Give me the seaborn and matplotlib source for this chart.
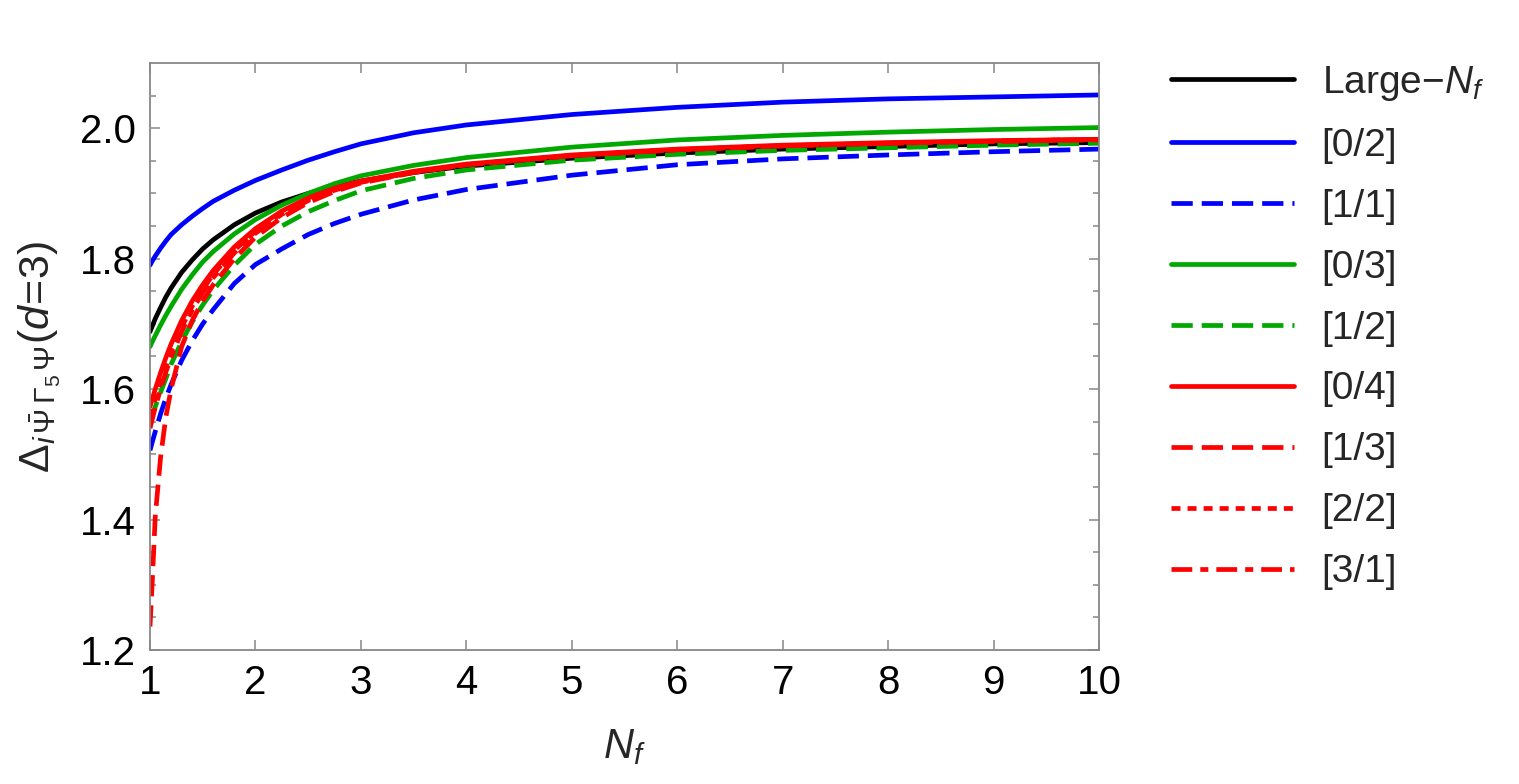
import matplotlib
matplotlib.use("Agg")
import matplotlib.pyplot as plt
import seaborn as sns
import numpy as np
import pandas as pd

# ---- data ----
N_f = [1.0, 1.02, 1.05, 1.1, 1.15, 1.2, 1.3, 1.4, 1.5, 1.6, 1.8, 2.0, 2.25, 2.5,
       2.75, 3.0, 3.5, 4.0, 5.0, 6.0, 7.0, 8.0, 9.0, 10.0]

large_nf = [1.688, 1.696, 1.708, 1.725, 1.741, 1.755, 1.779, 1.798, 1.815, 1.829,
            1.852, 1.870, 1.887, 1.900, 1.911, 1.919, 1.932, 1.942, 1.954, 1.962,
            1.968, 1.972, 1.976, 1.978]
pade_02 = [1.790, 1.796, 1.804, 1.816, 1.827, 1.837, 1.852, 1.865, 1.877, 1.888,
           1.905, 1.920, 1.936, 1.951, 1.964, 1.976, 1.993, 2.005, 2.021, 2.032,
           2.040, 2.045, 2.048, 2.051]
pade_11 = [1.506, 1.518, 1.535, 1.562, 1.586, 1.607, 1.644, 1.674, 1.700, 1.722,
           1.762, 1.791, 1.815, 1.837, 1.854, 1.868, 1.890, 1.906, 1.928, 1.944,
           1.953, 1.959, 1.964, 1.968]
pade_03 = [1.665, 1.672, 1.682, 1.698, 1.713, 1.727, 1.753, 1.775, 1.795, 1.811,
           1.838, 1.860, 1.882, 1.900, 1.915, 1.927, 1.943, 1.955, 1.971, 1.982,
           1.989, 1.994, 1.998, 2.001]
pade_12 = [1.550, 1.559, 1.573, 1.595, 1.616, 1.638, 1.673, 1.703, 1.729, 1.752,
           1.790, 1.822, 1.850, 1.872, 1.889, 1.904, 1.923, 1.936, 1.951, 1.960,
           1.966, 1.970, 1.974, 1.977]
pade_04 = [1.573, 1.584, 1.600, 1.625, 1.648, 1.669, 1.705, 1.735, 1.760, 1.782,
           1.818, 1.846, 1.873, 1.893, 1.908, 1.919, 1.934, 1.945, 1.959, 1.968,
           1.974, 1.978, 1.981, 1.983]
pade_13 = [1.236, 1.300, 1.405, 1.495, 1.557, 1.600, 1.665, 1.705, 1.735, 1.760,
           1.800, 1.833, 1.863, 1.886, 1.903, 1.916, 1.932, 1.944, 1.958, 1.967,
           1.973, 1.977, 1.980, 1.982]
pade_22 = [1.556, 1.568, 1.585, 1.611, 1.635, 1.657, 1.695, 1.727, 1.753, 1.776,
           1.813, 1.842, 1.870, 1.891, 1.906, 1.918, 1.933, 1.944, 1.958, 1.967,
           1.973, 1.977, 1.980, 1.983]
pade_31 = [1.540, 1.553, 1.572, 1.600, 1.626, 1.649, 1.688, 1.721, 1.748, 1.771,
           1.809, 1.839, 1.868, 1.889, 1.905, 1.917, 1.933, 1.944, 1.958, 1.967,
           1.973, 1.977, 1.980, 1.983]

labels = [r"Large$-N_f$", "[0/2]", "[1/1]", "[0/3]", "[1/2]", "[0/4]", "[1/3]", "[2/2]", "[3/1]"]
series = [large_nf, pade_02, pade_11, pade_03, pade_12, pade_04, pade_13, pade_22, pade_31]

x_ticks = [1, 2, 3, 4, 5, 6, 7, 8, 9, 10]
y_ticks = [1.2, 1.4, 1.6, 1.8, 2.0]

# ---- styles ----
GREEN = (0.0, 0.66, 0.0)
colors = ["black", "blue", "blue", GREEN, GREEN, "red", "red", "red", "red"]
LW = 3.4
dashed = (0, (4.5, 1.9))
dotted = (0, (1.9, 1.5))
dashdot = (0, (4.4, 1.7, 1.7, 1.7))
styles = ["-", "-", dashed, "-", dashed, "-", dashed, dotted, dashdot]

sns.set_style("ticks")
plt.rcParams["font.family"] = ["Liberation Sans", "DejaVu Sans"]
plt.rcParams["mathtext.fontset"] = "custom"
plt.rcParams["mathtext.rm"] = "Liberation Sans"
plt.rcParams["mathtext.it"] = "Liberation Sans:italic"
plt.rcParams["mathtext.bf"] = "Liberation Sans:bold"

fig = plt.figure(figsize=(15.19, 7.84), dpi=100)
ax = fig.add_axes([150 / 1519, 1 - 650 / 784, (1099 - 150) / 1519, (650 - 63) / 784])

frames = []
for lab, ys in zip(labels, series):
    frames.append(pd.DataFrame({"N": N_f, "val": ys, "series": lab}))
df = pd.concat(frames, ignore_index=True)

for lab, c, ls in zip(labels, colors, styles):
    sub = df[df["series"] == lab]
    sns.lineplot(data=sub, x="N", y="val", ax=ax, color=c, linewidth=LW,
                 linestyle=ls, label=lab, estimator=None, sort=False)

ax.set_xlim(1, 10)
ax.set_ylim(1.2, 2.1)
ax.set_xticks(x_ticks)
ax.set_xticklabels([str(t) for t in x_ticks])
ax.set_yticks(y_ticks)
ax.set_yticklabels([f"{t:.1f}" for t in y_ticks])
ax.set_yticks(np.arange(1.25, 2.1, 0.05), minor=True)

FRAME = "#888888"
for sp in ax.spines.values():
    sp.set_color(FRAME)
    sp.set_linewidth(1.3)
ax.tick_params(axis="both", which="both", direction="in", top=True, right=True,
               color=FRAME, width=1.1, labelsize=29, labelcolor="black")
ax.tick_params(axis="both", which="major", length=7, pad=10)
ax.tick_params(axis="y", which="minor", length=4)

ax.set_xlabel(r"$N_f$", fontsize=30, labelpad=18)
ax.set_ylabel(r"$\Delta_{i\,\bar{\Psi}\,\Gamma_5\,\Psi}(d\!=\!3)$", fontsize=31, labelpad=12)

leg = ax.legend(loc="upper left", frameon=False,
                fontsize=28, handlelength=3.15, handletextpad=0.72, labelspacing=0.64,
                borderaxespad=0.0, borderpad=0.0)
leg.set_bbox_to_anchor((1171 / 1519, 1 - 64 / 784), transform=fig.transFigure)

fig.savefig("out.png", dpi=100)
